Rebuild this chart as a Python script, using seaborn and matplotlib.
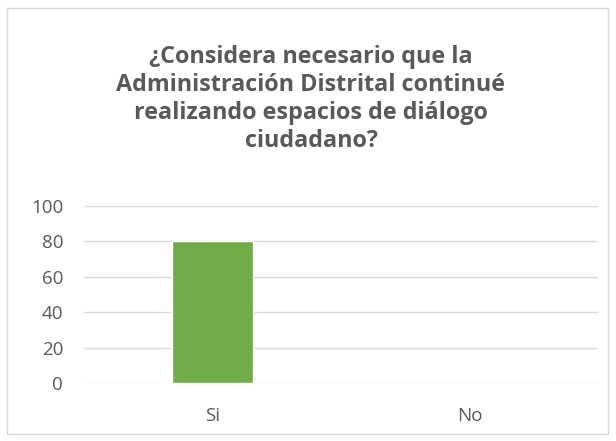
import matplotlib
matplotlib.use("Agg")
import matplotlib.pyplot as plt
import seaborn as sns
import pandas as pd
from matplotlib.patches import Rectangle

categories = ["Si", "No"]
values = [80, 0]
yticks = [0, 20, 40, 60, 80, 100]
title = "¿Considera necesario que la\nAdministración Distrital continué\nrealizando espacios de diálogo\nciudadano?"

sns.set_theme(style="white")
plt.rcParams['font.family'] = ['Open Sans', 'DejaVu Sans']

df = pd.DataFrame({"cat": categories, "val": values})

fig = plt.figure(figsize=(6.16, 4.41), dpi=100)
ax = fig.add_axes([84/616, 1-383/441, 514/616, (383-206)/441])
sns.barplot(data=df, x="cat", y="val", color="#70AD47", width=0.315, ax=ax, saturation=1)
ax.set_ylim(0, 100)
ax.set_xlim(-0.5, 1.5)
ax.set_yticks(yticks)
ax.set_yticklabels([str(t) for t in yticks])
ax.grid(axis="y", color="#D9D9D9", linewidth=1)
ax.set_axisbelow(True)
for s in ax.spines.values():
    s.set_visible(False)
ax.tick_params(axis="both", length=0, labelsize=13.5, colors="#595959")
ax.tick_params(axis="y", pad=15)
ax.tick_params(axis="x", pad=17)
ax.set_xlabel("")
ax.set_ylabel("")
fig.text(311/616, 1-99/441, title, ha="center", va="center", fontsize=16.8,
         fontweight="bold", color="#595959", linespacing=1.22)
fig.patches.append(Rectangle((7/616, 1-434/441), 601/616, 426/441, transform=fig.transFigure,
                             fill=False, edgecolor="#D9D9D9", linewidth=1))
fig.savefig("out.png", dpi=100)
